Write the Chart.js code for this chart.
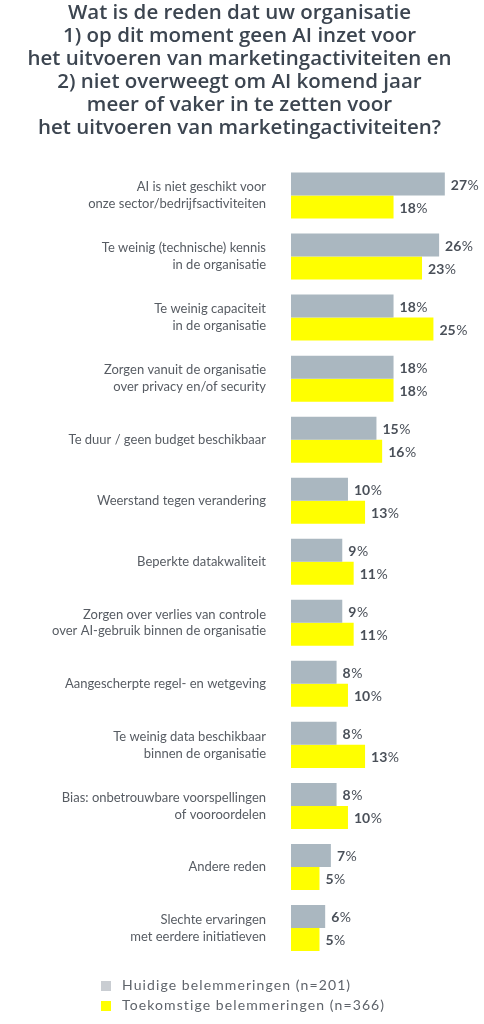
<!DOCTYPE html>
<html>
<head>
<meta charset="utf-8">
<script src="https://cdn.jsdelivr.net/npm/chart.js@4"></script>
<style>
  html, body { margin: 0; padding: 0; background: #fff; }
  #wrap { position: relative; width: 484px; height: 1024px; }
  #legend { position: absolute; left: 101px; top: 977px; font-family: Lato, sans-serif; font-size: 14px; letter-spacing: 1.1px; color: #5f646b; }
  #legend div { height: 20px; line-height: 16px; }
  #legend span.box { display: inline-block; width: 10px; height: 10px; margin-right: 11px; vertical-align: -1px; }
</style>
</head>
<body>
<div id="wrap">
  <canvas id="myChart" width="484" height="1024"></canvas>
  <div id="legend"></div>
</div>
<script>
// labels on the left, one array per category (two lines where needed)
var categories = [
  ['AI is niet geschikt voor', 'onze sector/bedrijfsactiviteiten'],
  ['Te weinig (technische) kennis', 'in de organisatie'],
  ['Te weinig capaciteit', 'in de organisatie'],
  ['Zorgen vanuit de organisatie', 'over privacy en/of security'],
  'Te duur / geen budget beschikbaar',
  'Weerstand tegen verandering',
  'Beperkte datakwaliteit',
  ['Zorgen over verlies van controle', 'over AI-gebruik binnen de organisatie'],
  'Aangescherpte regel- en wetgeving',
  ['Te weinig data beschikbaar', 'binnen de organisatie'],
  ['Bias: onbetrouwbare voorspellingen', 'of vooroordelen'],
  'Andere reden',
  ['Slechte ervaringen', 'met eerdere initiatieven']
]
// percentages
var huidige = [27, 26, 18, 18, 15, 10, 9, 9, 8, 8, 8, 7, 6]
var toekomstige = [18, 23, 25, 18, 16, 13, 11, 11, 10, 13, 10, 5, 5]
var seriesNames = ['Huidige belemmeringen (n=201)', 'Toekomstige belemmeringen (n=366)']

var titleLines = [
  'Wat is de reden dat uw organisatie',
  '1) op dit moment geen AI inzet voor',
  'het uitvoeren van marketingactiviteiten en',
  '2) niet overweegt om AI komend jaar',
  'meer of vaker in te zetten voor',
  'het uitvoeren van marketingactiviteiten?'
]

var grey = '#aab7c0'
var legendGrey = '#c9cdd2'
var yellow = '#ffff00'
var textColor = '#4a5059'

// draws "27" bold and "%" regular after each bar
var valueLabels = {
  id: 'valueLabels',
  afterDatasetsDraw(chart) {
    var ctx = chart.ctx
    ctx.save()
    ctx.textBaseline = 'middle'
    ctx.fillStyle = textColor
    chart.data.datasets.forEach(function (ds, i) {
      chart.getDatasetMeta(i).data.forEach(function (bar, j) {
        var num = String(ds.data[j])
        var x = bar.x + 6
        ctx.font = 'bold 14px Lato, sans-serif'
        ctx.fillText(num, x, bar.y + 1)
        x += ctx.measureText(num).width + 0.5
        ctx.font = '14px Lato, sans-serif'
        ctx.fillText('%', x, bar.y + 1)
      })
    })
    ctx.restore()
  }
}

const ctx = document.getElementById('myChart')
new Chart(ctx, {
  type: 'bar',
  data: {
    labels: categories,
    datasets: [
      { label: seriesNames[0], data: huidige, backgroundColor: grey },
      { label: seriesNames[1], data: toekomstige, backgroundColor: yellow }
    ]
  },
  options: {
    indexAxis: 'y',
    responsive: false,
    animation: false,
    categoryPercentage: 0.754,
    barPercentage: 1,
    layout: { padding: { left: 0, right: 5, top: 0, bottom: 65.5 } },
    plugins: {
      legend: { display: false },
      tooltip: { enabled: false },
      title: {
        display: true,
        text: titleLines,
        color: '#3c4550',
        font: { family: '"Open Sans", sans-serif', size: 20.5, weight: '600', lineHeight: 1.122 },
        padding: { top: 1.5, bottom: 25.5 }
      }
    },
    scales: {
      x: { display: false, min: 0, max: 33 },
      y: {
        afterFit(scale) { scale.width = 291 },
        grid: { display: false },
        border: { display: false },
        ticks: {
          color: '#575c63',
          padding: 17,
          font: { family: 'Lato, sans-serif', size: 13, lineHeight: 1.3 }
        }
      }
    }
  },
  plugins: [valueLabels]
})

// legend below the chart
var legend = document.getElementById('legend')
;[legendGrey, yellow].forEach(function (c, i) {
  var row = document.createElement('div')
  row.innerHTML = '<span class="box" style="background:' + c + '"></span>' + seriesNames[i]
  legend.appendChild(row)
})
</script>
</body>
</html>
